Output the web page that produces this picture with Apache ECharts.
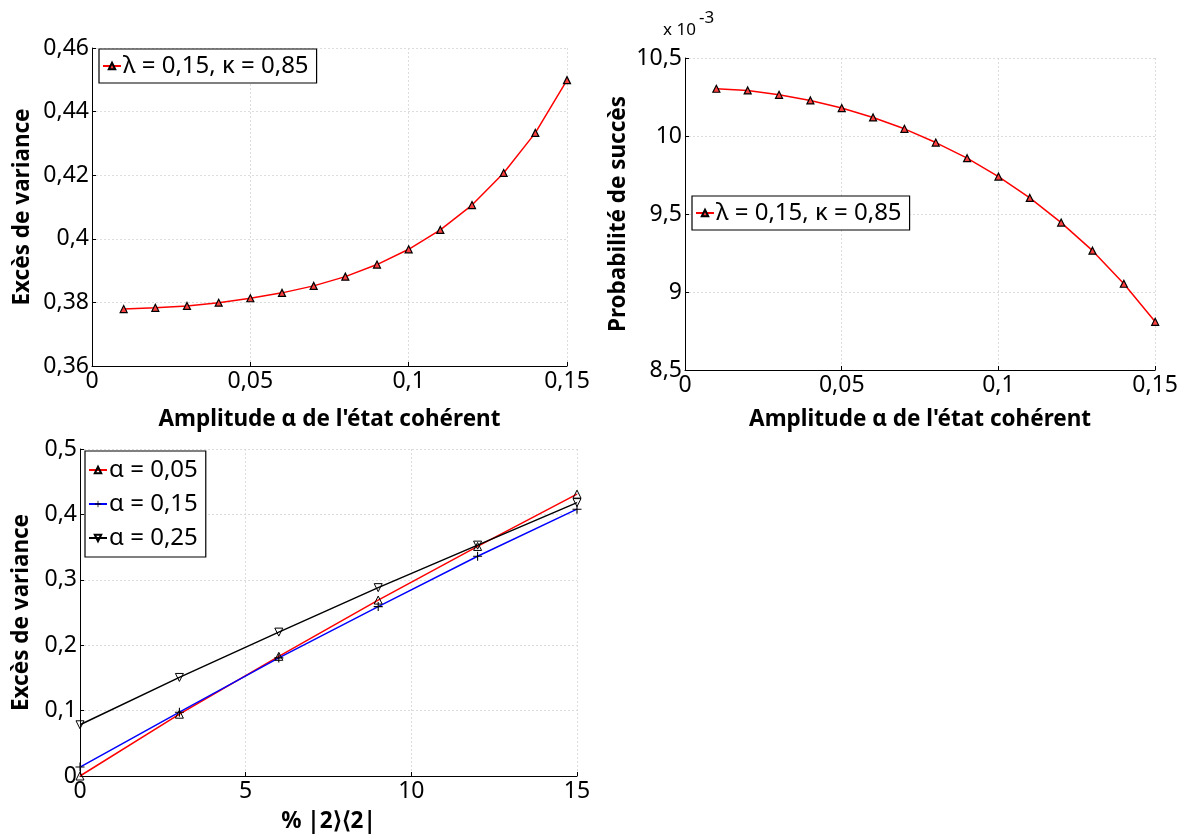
<!DOCTYPE html>
<html>
<head>
<meta charset="utf-8">
<script src="https://cdn.jsdelivr.net/npm/echarts@6/dist/echarts.min.js"></script>
<style>
html,body{margin:0;padding:0;background:#fff;}
#c{width:1181px;height:834px;}
</style>
</head>
<body>
<div id="c"></div>
<script>
// ---- data ----
const amplitude = [0.01,0.02,0.03,0.04,0.05,0.06,0.07,0.08,0.09,0.10,0.11,0.12,0.13,0.14,0.15];
const excesVariance = [0.3779,0.3783,0.3789,0.3799,0.3813,0.3830,0.3852,0.3881,0.3919,0.3967,0.4028,0.4106,0.4207,0.4333,0.4499];
const probSucces = [10.303,10.292,10.264,10.228,10.179,10.119,10.046,9.958,9.858,9.740,9.603,9.445,9.265,9.053,8.809]; // x 10^-3
const pourcent = [0,3,6,9,12,15];
const alpha005 = [0.000,0.0945,0.183,0.269,0.351,0.431];
const alpha015 = [0.0137,0.0976,0.1806,0.259,0.336,0.408];
const alpha025 = [0.0783,0.1507,0.220,0.288,0.353,0.418];
const nameLK = 'λ = 0,15, κ = 0,85';
const names3 = ['α = 0,05','α = 0,15','α = 0,25'];

const FONT = 'Noto Sans';
const fmt = v => String(+(+v).toFixed(4)).replace('.', ',');
const pair = (xs, ys) => xs.map((x,i)=>[x, ys[i]]);

function axisCommon(gi, min, max, interval, name, gap, margin){
  return {type:'value', gridIndex:gi, min, max, interval, name, nameLocation:'middle', nameGap:gap,
    nameTextStyle:{fontFamily:FONT, fontSize:22.5, fontWeight:'bold', color:'#000'},
    axisLine:{show:true, onZero:false, lineStyle:{color:'#000', width:1}},
    axisTick:{show:true, inside:true, length:4, lineStyle:{color:'#000'}},
    axisLabel:{fontFamily:FONT, fontSize:23, color:'#000', margin, formatter:fmt, showMinLabel:true, showMaxLabel:true},
    splitLine:{show:true, lineStyle:{color:'#dcdcdc', type:[2,2], width:1}}};
}
const legendBase = {orient:'vertical', backgroundColor:'#fff', borderColor:'#000', borderWidth:1.2, borderRadius:0,
  itemWidth:18, itemHeight:8, textStyle:{fontFamily:FONT, fontSize:24, color:'#000', padding:[0,0,0,-3]}, selectedMode:false};

const plusPath = 'path://M4.4,0h1.2v4.4h4.4v1.2h-4.4v4.4h-1.2v-4.4h-4.4v-1.2h4.4z';
const downTri = 'path://M0,0L10,0L5,9Z';

const option = {
  animation:false,
  backgroundColor:'#fff',
  grid:[
    {left:92, top:48, width:475, height:318},
    {left:685, top:58, width:473, height:312},
    {left:80, top:449, width:497, height:329}
  ],
  xAxis:[
    axisCommon(0, 0, 0.15, 0.05, "Amplitude α de l'état cohérent", 42, 4),
    axisCommon(1, 0, 0.15, 0.05, "Amplitude α de l'état cohérent", 38, 4),
    axisCommon(2, 0, 15, 5, '% |2⟩⟨2|', 34, 4)
  ],
  yAxis:[
    axisCommon(0, 0.36, 0.46, 0.02, 'Excès de variance', 58, 3),
    axisCommon(1, 8.5, 10.5, 0.5, 'Probabilité de succès', 55, 3),
    axisCommon(2, 0, 0.5, 0.1, 'Excès de variance', 47, 3)
  ],
  legend:[
    Object.assign({}, legendBase, {left:99, top:49, padding:[5,8,5,3], data:[nameLK]}),
    Object.assign({}, legendBase, {left:692, top:196, padding:[5,8,5,3], data:[nameLK]}),
    Object.assign({}, legendBase, {left:85, top:451, padding:[7,8,7,3], itemGap:10, data:names3})
  ],
  series:[
    {type:'line', name:nameLK, xAxisIndex:0, yAxisIndex:0, data:pair(amplitude, excesVariance),
      symbol:'triangle', symbolSize:7, lineStyle:{color:'#ff0000', width:1.5},
      itemStyle:{color:'#ff4040', borderColor:'#000', borderWidth:1.2}},
    {type:'line', name:nameLK, xAxisIndex:1, yAxisIndex:1, data:pair(amplitude, probSucces),
      symbol:'triangle', symbolSize:7, lineStyle:{color:'#ff0000', width:1.5},
      itemStyle:{color:'#ff4040', borderColor:'#000', borderWidth:1.2}},
    {type:'line', name:names3[0], xAxisIndex:2, yAxisIndex:2, data:pair(pourcent, alpha005),
      symbol:'triangle', symbolSize:8, lineStyle:{color:'#ff0000', width:1.5},
      itemStyle:{color:'rgba(255,255,255,0)', borderColor:'#000', borderWidth:1}},
    {type:'line', name:names3[1], xAxisIndex:2, yAxisIndex:2, data:pair(pourcent, alpha015),
      symbol:plusPath, symbolSize:9, lineStyle:{color:'#0000ff', width:1.5},
      itemStyle:{color:'#000', borderWidth:0}},
    {type:'line', name:names3[2], xAxisIndex:2, yAxisIndex:2, data:pair(pourcent, alpha025),
      symbol:downTri, symbolSize:8, lineStyle:{color:'#000', width:1.5},
      itemStyle:{color:'rgba(255,255,255,0)', borderColor:'#000', borderWidth:1}}
  ],
  graphic:[
    {type:'text', left:663, top:22, style:{text:'x 10', fontFamily:FONT, fontSize:17, fill:'#000'}},
    {type:'text', left:699, top:10, style:{text:'-3', fontFamily:FONT, fontSize:17, fill:'#000'}}
  ]
};
const chart = echarts.init(document.getElementById('c'), null, {renderer:'canvas'});
chart.setOption(option);
</script>
</body>
</html>
